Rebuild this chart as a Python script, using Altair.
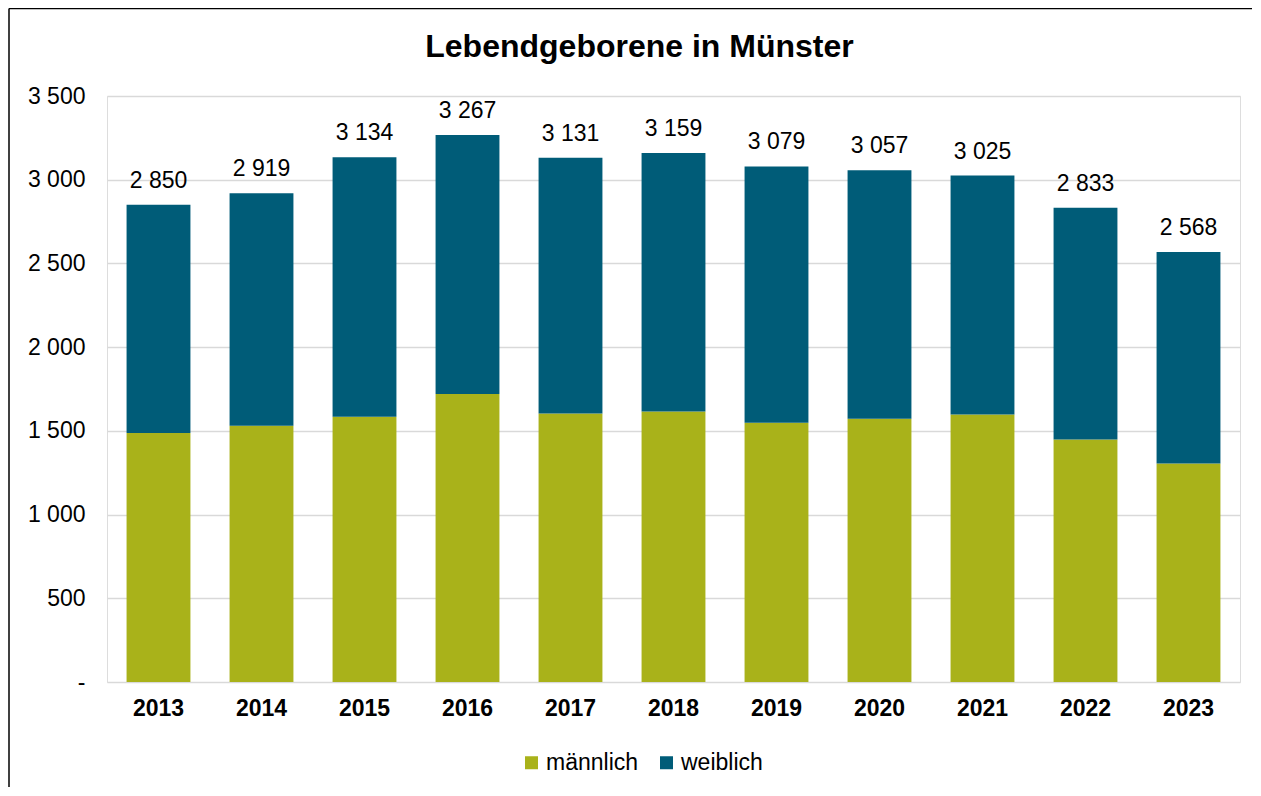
import altair as alt
import pandas as pd

years = ["2013", "2014", "2015", "2016", "2017", "2018", "2019", "2020", "2021", "2022", "2023"]
maennlich = [1487, 1531, 1585, 1720, 1604, 1615, 1549, 1573, 1597, 1449, 1305]
weiblich = [1363, 1388, 1549, 1547, 1527, 1544, 1530, 1484, 1428, 1384, 1263]
gesamt = [2850, 2919, 3134, 3267, 3131, 3159, 3079, 3057, 3025, 2833, 2568]
series = ["männlich", "weiblich"]
colors = ["#a9b21a", "#005c78"]
title_text = "Lebendgeborene in Münster"

rows = []
for i, y in enumerate(years):
    rows.append({"Jahr": y, "Geschlecht": series[0], "Anzahl": maennlich[i], "ord": 0})
    rows.append({"Jahr": y, "Geschlecht": series[1], "Anzahl": weiblich[i], "ord": 1})
df = pd.DataFrame(rows)
df_tot = pd.DataFrame({"Jahr": years, "Gesamt": gesamt})
df_one = pd.DataFrame({"t": [title_text]})

FONT = "Liberation Sans"
W, H = 1133, 586

x_enc = alt.X("Jahr:N", sort=years, title=None,
              scale=alt.Scale(paddingInner=0.38, paddingOuter=0.19),
              axis=alt.Axis(labelAngle=0, labelFont=FONT, labelFontSize=23, labelFontWeight="bold",
                            labelColor="#000000", labelPadding=15, labelBaseline="top",
                            ticks=False, domain=False))

bars = alt.Chart(df).mark_bar().encode(
    x=x_enc,
    y=alt.Y("Anzahl:Q", stack="zero", title=None,
            scale=alt.Scale(domain=[0, 3500], nice=False),
            axis=alt.Axis(values=[0, 500, 1000, 1500, 2000, 2500, 3000, 3500],
                          labelExpr="datum.value == 0 ? '-' : replace(format(datum.value, ','), ',', ' ')",
                          labelFont=FONT, labelFontSize=23, labelColor="#000000", labelPadding=22,
                          ticks=False, domain=False, gridColor="#d9d9d9", gridWidth=1.5)),
    color=alt.Color("Geschlecht:N", sort=series,
                    scale=alt.Scale(domain=series, range=colors),
                    legend=alt.Legend(title=None, orient="none", direction="horizontal",
                                      legendX=413, legendY=655, symbolType="square", symbolSize=169,
                                      symbolStrokeWidth=0, labelFont=FONT, labelFontSize=23,
                                      labelColor="#000000", columnPadding=16, labelOffset=3)),
    order=alt.Order("ord:Q"),
)

labels = alt.Chart(df_tot).mark_text(baseline="alphabetic", dy=-17, font=FONT, fontSize=23, color="#000000").encode(
    x=alt.X("Jahr:N", sort=years),
    y=alt.Y("Gesamt:Q"),
    text=alt.Text("GesamtLabel:N"),
).transform_calculate(GesamtLabel="replace(format(datum.Gesamt, ','), ',', ' ')")

title = alt.Chart(df_one).mark_text(font=FONT, fontSize=32, fontWeight="bold", color="#000000",
                                    align="center", baseline="alphabetic", clip=False).encode(
    x=alt.value(532.5), y=alt.value(-39.5), text="t:N"
)

frame_left = alt.Chart(df_one).mark_rule(color="#000000", strokeWidth=1.5, clip=False).encode(
    x=alt.value(-98), y=alt.value(-87.5), y2=alt.value(700)
)
frame_top = alt.Chart(df_one).mark_rule(color="#000000", strokeWidth=1.5, clip=False).encode(
    x=alt.value(-98), x2=alt.value(1160), y=alt.value(-87.5)
)

chart = alt.layer(bars, labels, title, frame_left, frame_top).properties(
    width=W, height=H,
    autosize=alt.AutoSizeParams(type="none"),
    padding={"left": 99, "top": 88, "right": 12, "bottom": 105},
).configure_view(stroke=None).configure(background="#ffffff")

chart.save("out.html", embed_options={"renderer": "svg", "actions": False})
